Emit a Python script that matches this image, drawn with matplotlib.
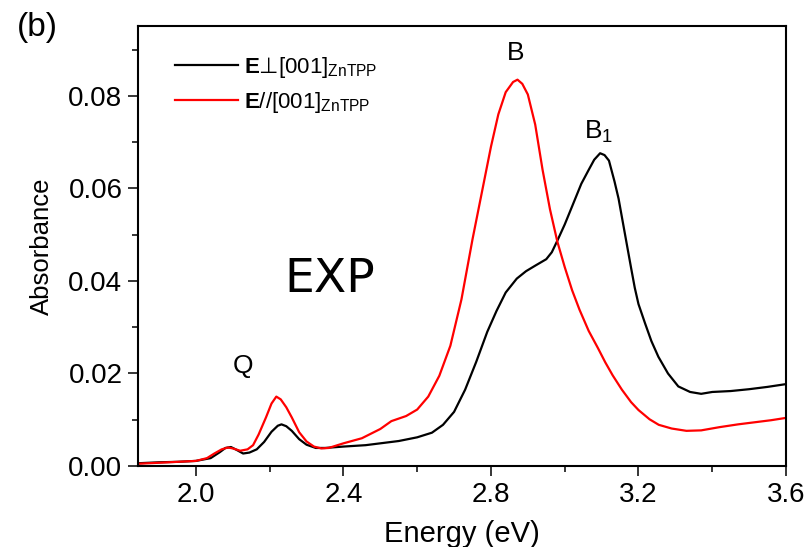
import matplotlib
matplotlib.use("Agg")
import matplotlib.pyplot as plt
from matplotlib.ticker import MultipleLocator, FormatStrFormatter

plt.rcParams['font.family'] = ['Liberation Sans', 'DejaVu Sans']
plt.rcParams['mathtext.fontset'] = 'custom'
plt.rcParams['mathtext.rm'] = 'Liberation Sans'
plt.rcParams['mathtext.bf'] = 'Liberation Sans:bold'
plt.rcParams['mathtext.it'] = 'Liberation Sans:italic'
plt.rcParams['mathtext.sf'] = 'DejaVu Sans'

# E perpendicular [001] (black)
energy_perp = [1.845, 1.90, 1.95, 2.00, 2.04, 2.065, 2.08, 2.095, 2.11, 2.128, 2.145, 2.165,
               2.185, 2.205, 2.222, 2.232, 2.245, 2.26, 2.28, 2.30, 2.325, 2.35, 2.40, 2.46,
               2.55, 2.60, 2.64, 2.67, 2.70, 2.73, 2.76, 2.79, 2.815, 2.84, 2.87, 2.895,
               2.92, 2.95, 2.965, 2.98, 3.00, 3.02, 3.045, 3.065, 3.08, 3.096, 3.108, 3.12,
               3.135, 3.146, 3.158, 3.17, 3.18, 3.19, 3.20, 3.218, 3.235, 3.254, 3.28, 3.308,
               3.34, 3.37, 3.40, 3.45, 3.50, 3.55, 3.60]
abs_perp = [0.0006, 0.0008, 0.0009, 0.0011, 0.0017, 0.0030, 0.0039, 0.0041, 0.0035, 0.0027,
            0.0029, 0.0036, 0.0052, 0.0074, 0.0087, 0.0090, 0.0086, 0.0076, 0.0058, 0.0046,
            0.0039, 0.0039, 0.0042, 0.0045, 0.0054, 0.0062, 0.0072, 0.0089, 0.0117, 0.0165,
            0.0225, 0.0290, 0.0335, 0.0375, 0.0405, 0.0421, 0.0433, 0.0447, 0.0462, 0.0487,
            0.0522, 0.0561, 0.0610, 0.0640, 0.0662, 0.0676, 0.0672, 0.0660, 0.0615, 0.0578,
            0.0525, 0.0472, 0.0428, 0.0385, 0.0350, 0.0308, 0.0270, 0.0236, 0.0200, 0.0172,
            0.0160, 0.0156, 0.0160, 0.0162, 0.0166, 0.0171, 0.0177]

# E parallel [001] (red)
energy_par = [1.845, 1.90, 1.95, 2.00, 2.03, 2.05, 2.07, 2.087, 2.10, 2.12, 2.14, 2.155, 2.17,
              2.19, 2.205, 2.218, 2.23, 2.245, 2.26, 2.28, 2.30, 2.32, 2.34, 2.36, 2.40, 2.45,
              2.50, 2.53, 2.57, 2.60, 2.63, 2.66, 2.69, 2.72, 2.75, 2.78, 2.80, 2.82, 2.84,
              2.86, 2.872, 2.885, 2.90, 2.92, 2.94, 2.96, 2.98, 3.00, 3.02, 3.04, 3.065,
              3.09, 3.11, 3.13, 3.155, 3.18, 3.20, 3.23, 3.255, 3.29, 3.33, 3.37, 3.42, 3.47,
              3.52, 3.56, 3.60]
abs_par = [0.0005, 0.0007, 0.0009, 0.0011, 0.0017, 0.0027, 0.0036, 0.0040, 0.0038, 0.0033,
           0.0036, 0.0045, 0.0068, 0.0105, 0.0135, 0.0150, 0.0144, 0.0127, 0.0105, 0.0073,
           0.0053, 0.0042, 0.0038, 0.0039, 0.0049, 0.0060, 0.0080, 0.0097, 0.0108, 0.0122,
           0.0150, 0.0195, 0.0260, 0.0360, 0.0490, 0.0610, 0.0690, 0.0760, 0.0808, 0.0830,
           0.0835, 0.0826, 0.0803, 0.0738, 0.0640, 0.0555, 0.0485, 0.0430, 0.0380, 0.0338,
           0.0292, 0.0255, 0.0224, 0.0196, 0.0165, 0.0138, 0.0121, 0.0101, 0.0089, 0.0081,
           0.0076, 0.0077, 0.0084, 0.0090, 0.0095, 0.0099, 0.0104]

labels = [r"$\mathbf{E}\mathsf{⊥}[001]_{\mathrm{ZnTPP}}$", r"$\mathbf{E}//[001]_{\mathrm{ZnTPP}}$"]
x_ticks = [2.0, 2.4, 2.8, 3.2, 3.6]
y_ticks = [0.00, 0.02, 0.04, 0.06, 0.08]

fig = plt.figure(figsize=(8.11, 5.47), dpi=100)
ax = fig.add_axes([138/811, 1-466/547, (786-138)/811, (466-26)/547])

ax.plot(energy_perp, abs_perp, color='black', lw=1.6, label=labels[0])
ax.plot(energy_par, abs_par, color='#ff0000', lw=1.6, label=labels[1])

ax.set_xlim(1.843, 3.6)
ax.set_ylim(0, 0.0951)
ax.set_xticks(x_ticks)
ax.set_yticks(y_ticks)
ax.xaxis.set_major_formatter(FormatStrFormatter('%.1f'))
ax.yaxis.set_major_formatter(FormatStrFormatter('%.2f'))
ax.xaxis.set_minor_locator(MultipleLocator(0.2))
ax.yaxis.set_minor_locator(MultipleLocator(0.01))
ax.tick_params(which='major', direction='out', length=7.2, width=1.1, labelsize=20, pad=4,
               colors='black')
ax.tick_params(which='minor', direction='out', length=4.3, width=1.1)
ax.tick_params(top=False, right=False, which='both')
for s in ax.spines.values():
    s.set_linewidth(1.5)

ax.set_xlabel('Energy (eV)', fontsize=21, labelpad=9)
ax.set_ylabel('Absorbance', fontsize=18.5, labelpad=10)

ax.text(2.868, 0.0893, 'B', fontsize=19, ha='center', va='center')
ax.text(3.092, 0.0722, r'B$_1$', fontsize=19, ha='center', va='center')
ax.text(2.127, 0.0216, 'Q', fontsize=19, ha='center', va='center')
ax.text(2.362, 0.0404, 'EXP', fontsize=34, family='DejaVu Sans', ha='center', va='center')
fig.text(0.046, 0.949, '(b)', fontsize=24, ha='center', va='center')

ax.legend(loc='upper left', bbox_to_anchor=(0.043, 0.955), frameon=False, fontsize=16,
          handlelength=2.85, handletextpad=0.25, labelspacing=0.45, borderaxespad=0)

fig.savefig('out.png', dpi=100)
